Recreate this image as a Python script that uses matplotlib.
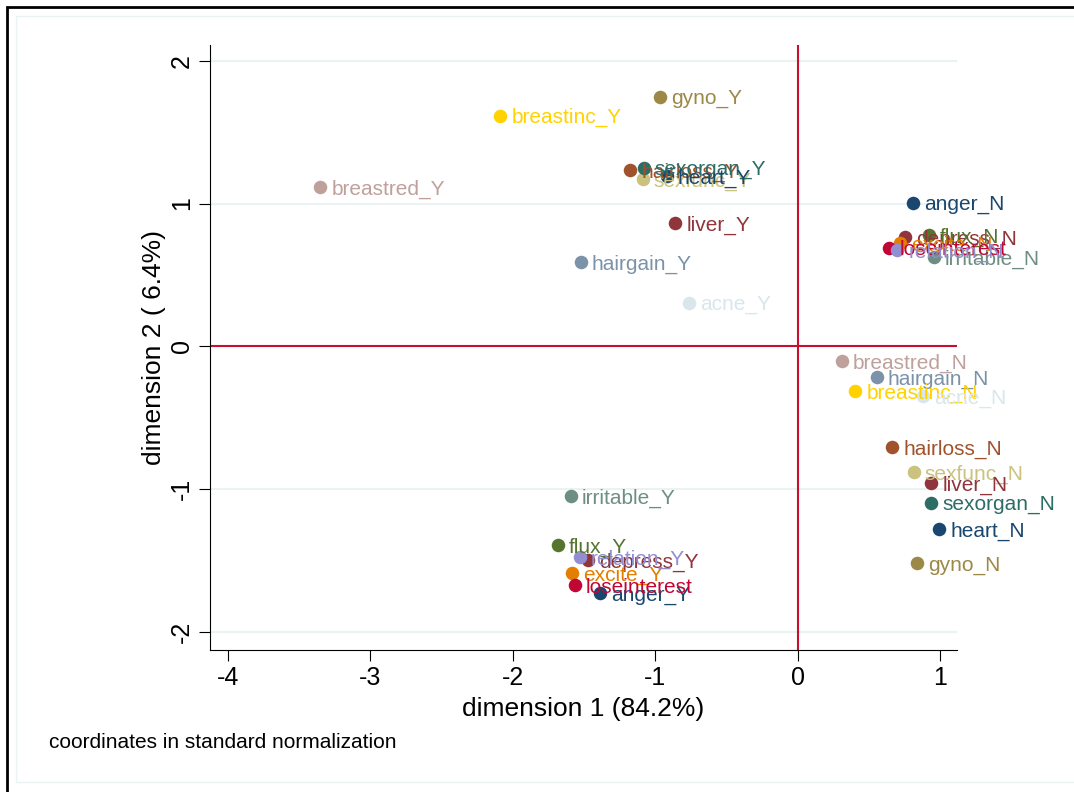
import matplotlib
matplotlib.use("Agg")
import matplotlib.pyplot as plt
from matplotlib.patches import Rectangle

plt.rcParams["font.family"] = ["Liberation Sans", "DejaVu Sans"]
plt.rcParams["axes.unicode_minus"] = False

# correspondence analysis coordinates (dimension 1, dimension 2)
labels_Y = ["anger_Y", "depress_Y", "flux_Y", "excite_Y", "irritable_Y", "loseinterest",
            "relation_Y", "sexfunc_Y", "hairloss_Y", "hairgain_Y", "sexorgan_Y", "gyno_Y",
            "breastred_Y", "breastinc_Y", "acne_Y", "heart_Y", "liver_Y"]
dim1_Y = [-1.39, -1.468, -1.685, -1.587, -1.594, -1.566,
          -1.531, -1.088, -1.173, -1.524, -1.081, -0.969,
          -3.35, -2.086, -0.765, -0.92, -0.857]
dim2_Y = [-1.727, -1.496, -1.39, -1.587, -1.047, -1.671,
          -1.475, 1.173, 1.236, 0.592, 1.25, 1.748,
          1.117, 1.615, 0.305, 1.194, 0.865]

labels_N = ["anger_N", "depress_N", "flux_N", "excite_N", "irritable_N", "loseinterest",
            "relation_N", "sexfunc_N", "hairloss_N", "hairgain_N", "sexorgan_N", "gyno_N",
            "breastred_N", "breastinc_N", "acne_N", "heart_N", "liver_N"]
dim1_N = [0.808, 0.758, 0.92, 0.723, 0.955, 0.639,
          0.702, 0.815, 0.667, 0.555, 0.94, 0.836,
          0.309, 0.407, 0.878, 0.997, 0.94]
dim2_N = [1.005, 0.767, 0.78, 0.725, 0.627, 0.69,
          0.676, -0.879, -0.704, -0.214, -1.096, -1.517,
          -0.102, -0.312, -0.347, -1.278, -0.956]

colors = ["#1a476f", "#90353b", "#55752f", "#e37e00", "#6e8e84", "#c10534",
          "#938dd2", "#cac27e", "#a0522d", "#7b92a8", "#2d6d66", "#9c8847",
          "#bfa19c", "#ffd200", "#d9e6eb", "#1a476f", "#90353b"]

fig = plt.figure(figsize=(10.74, 7.92), dpi=100)
ax = fig.add_axes([210 / 1074, 1 - 650 / 792, (957 - 210) / 1074, (650 - 45) / 792])

# outer frames
fig.patches.append(Rectangle((7 / 1074, -0.1), 1.2, 1 - 7 / 792 + 0.1, transform=fig.transFigure,
                             fill=False, edgecolor="black", linewidth=2))
fig.patches.append(Rectangle((16 / 1074, 10 / 792), 1.2, 1 - 26 / 792, transform=fig.transFigure,
                             fill=False, edgecolor="#eaf2f3", linewidth=1))

ax.set_xlim(-4.126, 1.12)
ax.set_ylim(-2.126, 2.11)

for yv in [-2, -1, 1, 2]:
    ax.axhline(yv, color="#eaf2f3", linewidth=1.5, zorder=0)
ax.axhline(0, color="#c8102e", linewidth=1.5, zorder=1)
ax.axvline(0, color="#c8102e", linewidth=1.5, zorder=1)

for xs, ys, labs in [(dim1_Y, dim2_Y, labels_Y), (dim1_N, dim2_N, labels_N)]:
    for x, y, lab, c in zip(xs, ys, labs, colors):
        ax.scatter(x, y, s=95, color=c, zorder=3, linewidths=0)
        ax.annotate(lab, (x, y), xytext=(8, -1.5), textcoords="offset points",
                    va="center", ha="left", fontsize=15, color=c, zorder=4)

for side in ["top", "right"]:
    ax.spines[side].set_visible(False)
ax.set_xticks([-4, -3, -2, -1, 0, 1])
ax.set_yticks([-2, -1, 0, 1, 2])
ax.tick_params(axis="both", length=8, labelsize=18)
for t in ax.get_yticklabels():
    t.set_rotation(90)
    t.set_va("center")
ax.set_xlabel("dimension 1 (84.2%)", fontsize=19, labelpad=5)
ax.set_ylabel("dimension 2 ( 6.4%)", fontsize=19, labelpad=3)

fig.text(49 / 1074, 1 - 742 / 792, "coordinates in standard normalization", fontsize=15,
         va="center", ha="left")

fig.savefig("out.png", dpi=100)
